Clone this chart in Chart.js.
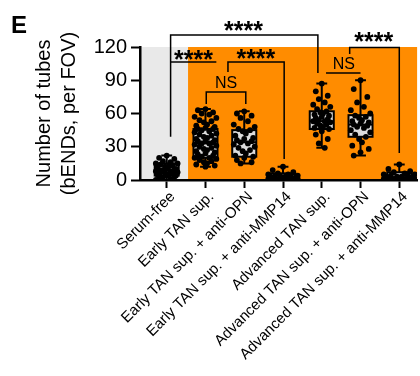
<!DOCTYPE html>
<html>
<head>
<meta charset="utf-8">
<script src="https://cdn.jsdelivr.net/npm/chart.js@4.4.1/dist/chart.umd.min.js"></script>
<style>
html, body { margin: 0; padding: 0; background: #fff; }
#wrap { width: 420px; height: 376px; position: relative; }
</style>
</head>
<body>
<div id="wrap"><canvas id="chart"></canvas></div>
<script>
// categories and axis ticks
const categories = ['Serum-free', 'Early TAN sup.', 'Early TAN sup. + anti-OPN', 'Early TAN sup. + anti-MMP14',
	'Advanced TAN sup.', 'Advanced TAN sup. + anti-OPN', 'Advanced TAN sup. + anti-MMP14'];
const yTicks = [0, 30, 60, 90, 120];

// individual points per group (tubes per FOV)
const serumFree = [22, 20, 19, 17, 16, 15, 15, 14, 13, 12, 12, 11, 10, 10, 9, 9, 9, 8, 8, 7, 7, 6, 6, 5, 5, 4, 4, 3, 3, 2, 1, 0];
const earlyTan = [64, 63, 61, 60, 59, 57, 56, 54, 53, 52, 50, 49, 48, 47, 46, 46, 45, 44, 43, 42, 41, 40, 39, 38, 37, 36, 35, 35, 34, 33,
	33, 32, 31, 30, 29, 28, 27, 26, 25, 24, 23, 22, 21, 20, 20, 19, 18, 17, 16, 15, 14, 13, 12];
const earlyOpn = [62, 60, 58, 56, 53, 50, 48, 46, 45, 44, 42, 40, 38, 37, 36, 35, 34, 33, 32, 30, 29, 27, 26, 24, 22, 21, 20, 18, 16, 15];
const earlyMmp = [12, 9, 7, 6, 5, 5, 4, 4, 3, 3, 3, 2, 2, 2, 2, 1, 1, 1, 1, 1, 0, 0, 0, 0, 0, 0, 0];
const advTan = [87, 80, 76, 73, 70, 68, 66, 64, 62, 61, 60, 59, 58, 57, 56, 55, 54, 53, 53, 52, 51, 50, 49, 48, 47, 46, 44, 41, 37, 33, 29];
const advOpn = [90, 82, 75, 70, 66, 63, 60, 58, 57, 56, 54, 53, 52, 51, 50, 49, 48, 47, 45, 43, 41, 39, 37, 34, 31, 28, 25, 22];
const advMmp = [14, 10, 8, 7, 6, 5, 5, 4, 4, 3, 3, 3, 2, 2, 2, 2, 1, 1, 1, 1, 0, 0, 0, 0, 0, 0, 0];
const groups = [serumFree, earlyTan, earlyOpn, earlyMmp, advTan, advOpn, advMmp];

// box plot summary (min, Q1, median, Q3, max)
const boxMin = [0, 12, 15, 0, 29, 22, 0];
const boxQ1 = [4, 20, 21, 0, 46, 39, 0];
const boxMed = [9, 33, 34, 2, 53, 50, 2];
const boxQ3 = [15, 46, 45, 6, 62, 58.5, 7];
const boxMax = [22, 64, 62, 12, 87, 90, 14];

// significance annotations (in axis units)
const brackets = [
	{ x1: 0.1, x2: 3.9, top: 130.8, b1: 39, b2: 96.5, label: '****', lx: 1.98, ly: 139 },
	{ x1: 0.1, x2: 1.28, top: 106.5, b1: null, b2: null, label: '****', lx: 0.69, ly: 112.8 },
	{ x1: 1.58, x2: 3.03, top: 106.5, b1: 97.4, b2: 19, label: '****', lx: 2.3, ly: 113.7 },
	{ x1: 1.02, x2: 2.04, top: 79.4, b1: 68.6, b2: 68.6, label: 'NS', lx: 1.53, ly: 88.4 },
	{ x1: 4.11, x2: 5.0, top: 96.5, b1: null, b2: null, label: 'NS', lx: 4.57, ly: 105.6 },
	{ x1: 4.72, x2: 6.0, top: 119.5, b1: 113.7, b2: 24.4, label: '****', lx: 5.34, ly: 129 }
];

const FONT = 'Arial, "Liberation Sans", sans-serif';
const jitter = [0, -0.7, 0.7, -0.35, 0.35, -1, 1, -0.55, 0.55, -0.15, 0.15, -0.85, 0.85];
const spread = [0.28, 0.28, 0.27, 0.38, 0.22, 0.25, 0.4];

const datasets = groups.map((pts, g) => ({
	data: pts.map((v, j) => ({ x: g + spread[g] * jitter[j % jitter.length], y: v })),
	backgroundColor: '#000',
	borderColor: '#000',
	borderWidth: 0,
	pointRadius: 2.9,
	pointHoverRadius: 2.9
}));

const bgPlugin = {
	id: 'bg',
	beforeDraw(chart) {
		const { ctx, chartArea: ca, scales: { x, y } } = chart;
		const top = y.getPixelForValue(120), bottom = y.getPixelForValue(0);
		const split = x.getPixelForValue(0.55);
		ctx.save();
		ctx.fillStyle = '#e9e9e9';
		ctx.fillRect(ca.left, top, split - ca.left, bottom - top);
		ctx.fillStyle = '#ff8c00';
		ctx.fillRect(split, top, ca.right - split, bottom - top);
		ctx.restore();
	}
};

const boxPlugin = {
	id: 'boxes',
	beforeDatasetsDraw(chart) {
		const { ctx, scales: { x, y } } = chart;
		const hw = x.getPixelForValue(0.31) - x.getPixelForValue(0);
		const cw = x.getPixelForValue(0.14) - x.getPixelForValue(0);
		ctx.save();
		ctx.strokeStyle = '#000';
		ctx.lineWidth = 2;
		for (let g = 0; g < categories.length; g++) {
			const cx = x.getPixelForValue(g);
			const pMin = y.getPixelForValue(boxMin[g]), pQ1 = y.getPixelForValue(boxQ1[g]);
			const pMed = y.getPixelForValue(boxMed[g]), pQ3 = y.getPixelForValue(boxQ3[g]);
			const pMax = y.getPixelForValue(boxMax[g]);
			ctx.beginPath();
			ctx.moveTo(cx, pMax); ctx.lineTo(cx, pQ3);
			ctx.moveTo(cx, pQ1); ctx.lineTo(cx, pMin);
			ctx.moveTo(cx - cw, pMax); ctx.lineTo(cx + cw, pMax);
			ctx.moveTo(cx - cw, pMin); ctx.lineTo(cx + cw, pMin);
			ctx.stroke();
			ctx.fillStyle = '#dcdcdc';
			ctx.fillRect(cx - hw, pQ3, 2 * hw, pQ1 - pQ3);
			ctx.strokeRect(cx - hw, pQ3, 2 * hw, pQ1 - pQ3);
			ctx.beginPath();
			ctx.moveTo(cx - hw, pMed); ctx.lineTo(cx + hw, pMed);
			ctx.stroke();
		}
		ctx.restore();
	}
};

function centeredText(ctx, text, cx, cy) {
	const m = ctx.measureText(text);
	const base = cy + (m.actualBoundingBoxAscent - m.actualBoundingBoxDescent) / 2;
	ctx.fillText(text, cx, base);
}

const bracketPlugin = {
	id: 'brackets',
	afterDraw(chart) {
		const { ctx, scales: { x, y } } = chart;
		ctx.save();
		ctx.strokeStyle = '#000';
		ctx.fillStyle = '#000';
		ctx.lineWidth = 1.5;
		ctx.textAlign = 'center';
		ctx.textBaseline = 'alphabetic';
		brackets.forEach(b => {
			const px1 = x.getPixelForValue(b.x1), px2 = x.getPixelForValue(b.x2);
			const pt = y.getPixelForValue(b.top);
			ctx.beginPath();
			if (b.b1 !== null) { ctx.moveTo(px1, y.getPixelForValue(b.b1)); ctx.lineTo(px1, pt); }
			else ctx.moveTo(px1, pt);
			ctx.lineTo(px2, pt);
			if (b.b2 !== null) ctx.lineTo(px2, y.getPixelForValue(b.b2));
			ctx.stroke();
			ctx.font = b.label === 'NS' ? '16px ' + FONT : 'bold 25px ' + FONT;
			centeredText(ctx, b.label, x.getPixelForValue(b.lx), y.getPixelForValue(b.ly));
		});
		ctx.font = 'bold 24px ' + FONT;
		ctx.textAlign = 'left';
		ctx.fillText('E', 11, 33);
		ctx.restore();
	}
};

new Chart(document.getElementById('chart'), {
	type: 'scatter',
	data: { datasets: datasets },
	options: {
		responsive: true,
		maintainAspectRatio: false,
		devicePixelRatio: 1,
		animation: false,
		layout: { padding: { top: 47, left: 0, right: 0, bottom: 0 } },
		plugins: { legend: { display: false }, tooltip: { enabled: false } },
		scales: {
			x: {
				type: 'linear',
				min: -0.6894,
				max: 6.4596,
				afterBuildTicks: s => { s.ticks = categories.map((c, i) => ({ value: i })); },
				afterFit: s => { s.height = 196; s.paddingLeft = 0; s.paddingRight = 0; },
				border: { color: '#000', width: 2.5 },
				grid: { drawOnChartArea: false, drawTicks: true, tickLength: 8, tickColor: '#000', tickWidth: 2 },
				ticks: {
					autoSkip: false, maxRotation: 45, minRotation: 45, padding: 0, labelOffset: 6,
					color: '#000', font: { family: FONT, size: 15 },
					callback: v => categories[v]
				}
			},
			y: {
				min: 0,
				max: 120,
				afterBuildTicks: s => { s.ticks = yTicks.map(v => ({ value: v })); },
				afterFit: s => { s.width = 140; s.paddingTop = 0; s.paddingBottom = 0; },
				border: { color: '#000', width: 2.5 },
				grid: { drawOnChartArea: false, drawTicks: true, tickLength: 9, tickColor: '#000', tickWidth: 2 },
				ticks: { padding: 4, color: '#000', font: { family: FONT, size: 20 } },
				title: {
					display: true,
					text: ['Number of tubes', '(bENDs, per FOV)'],
					color: '#000',
					font: { family: FONT, size: 20, lineHeight: 1.25 },
					padding: { top: 32, bottom: 0 }
				}
			}
		}
	},
	plugins: [bgPlugin, boxPlugin, bracketPlugin]
});
</script>
</body>
</html>
